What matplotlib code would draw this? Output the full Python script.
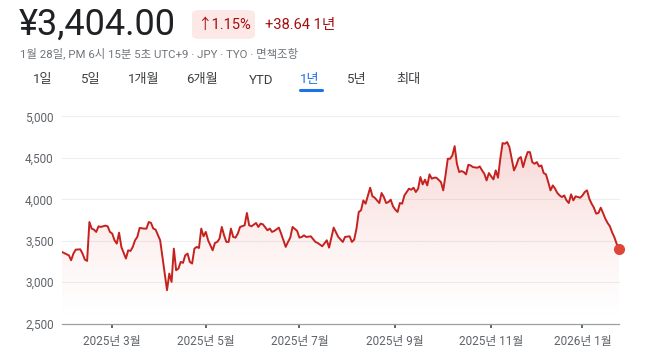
import numpy as np
import pandas as pd
import matplotlib
matplotlib.use("Agg")
import matplotlib.pyplot as plt
from matplotlib.patches import Polygon, FancyBboxPatch
from matplotlib.colors import to_rgb

plt.rcParams['font.family'] = ['Roboto', 'Noto Sans CJK KR', 'DejaVu Sans']

# Tokyo exchange closed days in the window
jp_holidays = ['2025-02-11', '2025-02-24', '2025-03-20', '2025-04-29', '2025-05-05',
               '2025-05-06', '2025-07-21', '2025-08-11', '2025-09-15', '2025-09-23',
               '2025-10-13', '2025-11-03', '2025-11-24', '2025-12-31', '2026-01-01',
               '2026-01-02', '2026-01-12']

# session number (trading day index) -> close price
session = [0, 2, 3, 4, 5, 6, 8, 9, 10, 11, 12, 13, 14, 15, 16, 17, 19, 20, 21, 22,
           23, 24, 25, 26, 28, 29, 30, 31, 32, 33, 34, 36, 37, 38, 39, 40, 41, 43, 44, 45,
           46, 47, 48, 49, 50, 51, 52, 53, 54, 55, 56, 57, 58, 59, 60, 61, 62, 63, 64, 66,
           67, 68, 69, 70, 71, 72, 73, 74, 75, 76, 77, 78, 80, 81, 82, 83, 85, 86, 87, 88,
           90, 91, 92, 93, 95, 96, 97, 98, 99, 100, 101, 103, 104, 105, 106, 107, 109, 111, 112, 114,
           116, 117, 119, 121, 123, 124, 126, 127, 128, 129, 130, 131, 132, 133, 135, 136, 137, 138, 139, 140,
           141, 142, 143, 144, 145, 146, 147, 148, 149, 150, 151, 152, 153, 154, 155, 156, 157, 158, 159, 160,
           161, 162, 163, 164, 166, 167, 168, 169, 170, 171, 172, 173, 174, 175, 176, 177, 178, 179, 180, 182,
           183, 184, 185, 186, 187, 188, 189, 190, 191, 192, 193, 194, 195, 196, 197, 198, 199, 200, 201, 202,
           203, 204, 205, 206, 207, 208, 209, 210, 211, 212, 213, 214, 215, 216, 217, 218, 219, 220, 221, 222,
           223, 224, 225, 226, 227, 228, 229, 230, 231, 232, 233, 234, 235, 236, 237, 238, 239, 240, 241, 242,
           243, 244]
price = [3364, 3336, 3324, 3264, 3344, 3392, 3396, 3344, 3272, 3256, 3726, 3646, 3634, 3606, 3674, 3666, 3682, 3674, 3606, 3586,
         3505, 3465, 3597, 3425, 3284, 3384, 3376, 3425, 3505, 3546, 3654, 3646, 3646, 3726, 3714, 3646, 3634, 3505, 3304, 3103,
         2902, 3103, 3002, 3404, 3143, 3163, 3244, 3232, 3324, 3344, 3244, 3224, 3404, 3425, 3412, 3646, 3553, 3606, 3505, 3384,
         3473, 3485, 3525, 3666, 3565, 3485, 3485, 3646, 3545, 3537, 3585, 3666, 3686, 3835, 3686, 3674, 3714, 3666, 3706, 3698,
         3626, 3646, 3606, 3618, 3658, 3585, 3505, 3425, 3485, 3537, 3666, 3618, 3537, 3545, 3565, 3545, 3553, 3485, 3473, 3433,
         3505, 3416, 3658, 3546, 3485, 3546, 3553, 3485, 3513, 3646, 3847, 3867, 3987, 3947, 4140, 4036, 4019, 3987, 3955, 4076,
         4027, 3955, 3967, 3995, 3915, 3875, 3847, 3955, 3947, 4047, 4088, 4128, 4116, 4140, 4088, 4128, 4269, 4180, 4237, 4168,
         4301, 4249, 4261, 4261, 4208, 4108, 4289, 4490, 4490, 4530, 4642, 4429, 4329, 4341, 4329, 4301, 4417, 4409, 4389, 4381,
         4397, 4349, 4309, 4228, 4317, 4277, 4240, 4349, 4261, 4490, 4679, 4671, 4691, 4630, 4490, 4349, 4409, 4490, 4510, 4389,
         4490, 4570, 4570, 4449, 4429, 4449, 4397, 4409, 4317, 4301, 4208, 4108, 4168, 4128, 4076, 4047, 4027, 4047, 3987, 3955,
         4060, 3987, 4036, 4027, 4019, 4047, 4088, 4108, 4007, 3947, 3899, 3827, 3835, 3899, 3835, 3766, 3714, 3674, 3600, 3540,
         3460, 3404]

tick_months = [(2025, 3), (2025, 5), (2025, 7), (2025, 9), (2025, 11), (2026, 1)]
y_ticks = [2500, 3000, 3500, 4000, 4500, 5000]

sessions = pd.bdate_range('2025-01-28', '2026-01-28', freq='C', holidays=jp_holidays)
x = np.array(session)
y = np.array(price, dtype=float)

W, H = 658, 357
fig = plt.figure(figsize=(W / 100, H / 100), dpi=100)

def px(xp, yp):
    return xp / W, 1 - yp / H

# ---- header ----
fig.text(*px(19, 25), '¥3,404.00', fontsize=26, color='#202124', va='center', ha='left')
badge = FancyBboxPatch(px(192, 39), 63 / W, 29 / H, boxstyle='round,pad=0,rounding_size=0.012',
                       transform=fig.transFigure, facecolor='#fce8e6', edgecolor='none')
fig.patches.append(badge)
fig.text(*px(224, 25), '↑1.15%', fontsize=10.5, color='#a50e0e', va='center', ha='center')
fig.text(*px(265, 25), '+38.64 1년', fontsize=10.5, color='#a50e0e', va='center', ha='left')
fig.text(*px(20, 53), '1월 28일, PM 6시 15분 5초 UTC+9 · JPY · TYO · 면책조항',
         fontsize=8.2, color='#70757a', va='center', ha='left')

tabs = ['1일', '5일', '1개월', '6개월', 'YTD', '1년', '5년', '최대']
tab_x = [43, 91, 144, 202, 261, 310, 357, 408]
for t, tx in zip(tabs, tab_x):
    c = '#1a73e8' if t == '1년' else '#3c4043'
    fig.text(*px(tx, 80), t, fontsize=9.5, color=c, va='center', ha='center')
fig.add_artist(plt.Line2D([300 / W, 322 / W], [1 - 89.5 / H, 1 - 89.5 / H], color='#1a73e8',
                          lw=2.2, solid_capstyle='round', transform=fig.transFigure))

# ---- chart ----
ax = fig.add_axes([62 / W, 33.5 / H, 557 / W, 207 / H])

red = '#c5221f'
grad_n = 256
rgba = np.zeros((grad_n, 1, 4))
rgba[..., :3] = to_rgb('#d93025')
rgba[:, 0, 3] = np.linspace(0.0, 0.28, grad_n) ** 1.3
im = ax.imshow(rgba, extent=[x[0], x[-1], 2500, y.max()], origin='lower', aspect='auto', zorder=1)
verts = [(x[0], 2500)] + list(zip(x, y)) + [(x[-1], 2500)]
clip = Polygon(verts, closed=True, facecolor='none', edgecolor='none', transform=ax.transData)
ax.add_patch(clip)
im.set_clip_path(clip)

ax.plot(x, y, color=red, lw=1.4, zorder=3, solid_joinstyle='round')
ax.plot(x[-1], y[-1], 'o', color='#e0453a', ms=7, mec='#e0453a', zorder=4, clip_on=False)

ax.set_xlim(0, len(sessions) - 1)
ax.set_ylim(2500, 5000)

for v in y_ticks[1:]:
    ax.axhline(v, color='#eeeeee', lw=0.8, zorder=0, clip_on=False)

ax.set_yticks(y_ticks)
ax.set_yticklabels([f'{v:,}' for v in y_ticks])

tick_pos, tick_lab = [], []
for yr, mo in tick_months:
    i = np.where((sessions.year == yr) & (sessions.month == mo))[0][0]
    tick_pos.append(i)
    tick_lab.append(f'{yr}년 {mo}월')
ax.set_xticks(tick_pos)
ax.set_xticklabels(tick_lab)

for s in ['top', 'right', 'left']:
    ax.spines[s].set_visible(False)
ax.spines['bottom'].set_color('#9aa0a6')
ax.spines['bottom'].set_linewidth(0.9)
ax.tick_params(axis='y', length=0, pad=6, labelsize=8.5, labelcolor='#5f6368')
ax.tick_params(axis='x', length=3.2, width=1.4, color='#5f6368', pad=5,
               labelsize=8.5, labelcolor='#5f6368')

fig.savefig('out.png', dpi=100)
